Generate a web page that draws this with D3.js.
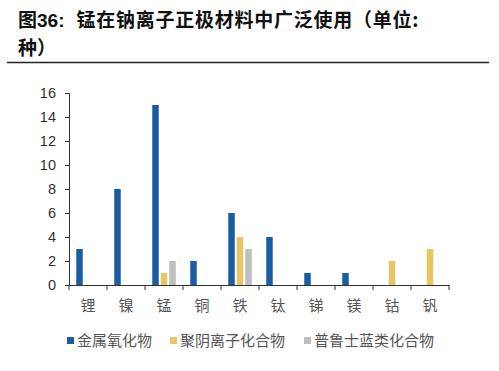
<!DOCTYPE html>
<html><head><meta charset="utf-8">
<script src="https://cdn.jsdelivr.net/npm/d3@7"></script>
<style>
body{margin:0;background:#fff;}
svg{display:block;}
</style></head>
<body>
<svg id="chart" width="499" height="371"></svg>
<script>
const categories = ["锂","镍","锰","铜","铁","钛","锑","镁","钴","钒"];
const seriesNames = ["金属氧化物","聚阴离子化合物","普鲁士蓝类化合物"];
const metalOxide = [3,8,15,2,6,4,1,1,0,0];
const polyanion = [0,0,1,0,4,0,0,0,2,3];
const prussianBlue = [0,0,2,0,3,0,0,0,0,0];
const yTicks = [0,2,4,6,8,10,12,14,16];
const colors = ["#1a5ea2","#e8c664","#bfbfbf"];

const seriesValues = [metalOxide, polyanion, prussianBlue];
const svg = d3.select("#chart");
const cjk = "'Noto Sans CJK SC','Liberation Sans',sans-serif";
const latin = "'Liberation Sans',Arial,sans-serif";

// Title
const t1 = svg.append("text").attr("x",18).attr("y",27)
  .attr("font-size",19).attr("font-weight","bold").attr("fill","#111")
  .attr("font-family",cjk);
t1.append("tspan").text("图");
t1.append("tspan").attr("font-family",latin).text("36:");
t1.append("tspan").attr("dx",12).attr("letter-spacing",0.75).text("锰在钠离子正极材料中广泛使用（单位:");
svg.append("text").attr("x",18).attr("y",55)
  .attr("font-size",19).attr("font-weight","bold").attr("fill","#111")
  .attr("font-family",cjk).text("种）");
svg.append("line").attr("x1",7).attr("x2",489).attr("y1",62.5).attr("y2",62.5)
  .attr("stroke","#222").attr("stroke-width",1.3);

const x0 = d3.scaleBand().domain(categories).range([69,449]).padding(0);
const x1 = d3.scaleBand().domain(d3.range(3)).range([7.25,30.75]).paddingInner(0.235).paddingOuter(0);
const y = d3.scaleLinear().domain([0,16]).range([285,93]);

// Bars
seriesValues.forEach((vals,si)=>{
  svg.append("g").selectAll("rect").data(vals).join("rect")
    .attr("x",(d,i)=>x0(categories[i])+x1(si))
    .attr("width",x1.bandwidth())
    .attr("y",d=>y(d))
    .attr("height",d=>y(0)-y(d))
    .attr("fill",colors[si]);
});

// Y axis
const yAxis = svg.append("g").attr("transform","translate(69,0)")
  .call(d3.axisLeft(y).tickValues(yTicks).tickSize(4).tickPadding(9).tickFormat(d3.format("d")));
yAxis.select(".domain").attr("stroke","#333");
yAxis.selectAll(".tick line").attr("stroke","#333");
yAxis.selectAll("text").attr("font-size",14.5).attr("font-family",latin).attr("fill","#333");

// X axis
const xAxis = svg.append("g").attr("transform","translate(0,285)")
  .call(d3.axisBottom(x0).tickSize(0).tickPadding(15));
xAxis.select(".domain").attr("stroke","#333");
xAxis.selectAll("text").attr("font-size",15).attr("font-family",cjk).attr("fill","#555");
const bounds = categories.map(c=>x0(c)).concat([x0.range()[1]]);
svg.append("g").selectAll("line").data(bounds).join("line")
  .attr("x1",d=>d).attr("x2",d=>d).attr("y1",285).attr("y2",290)
  .attr("stroke","#333");

// Legend
const legendX = [67,170,304];
const lg = svg.append("g");
seriesNames.forEach((n,i)=>{
  lg.append("rect").attr("x",legendX[i]).attr("y",337).attr("width",7).attr("height",7).attr("fill",colors[i]);
  lg.append("text").attr("x",legendX[i]+10).attr("y",346).attr("font-size",15)
    .attr("font-family",cjk).attr("fill","#555").text(n);
});
</script>
</body></html>
